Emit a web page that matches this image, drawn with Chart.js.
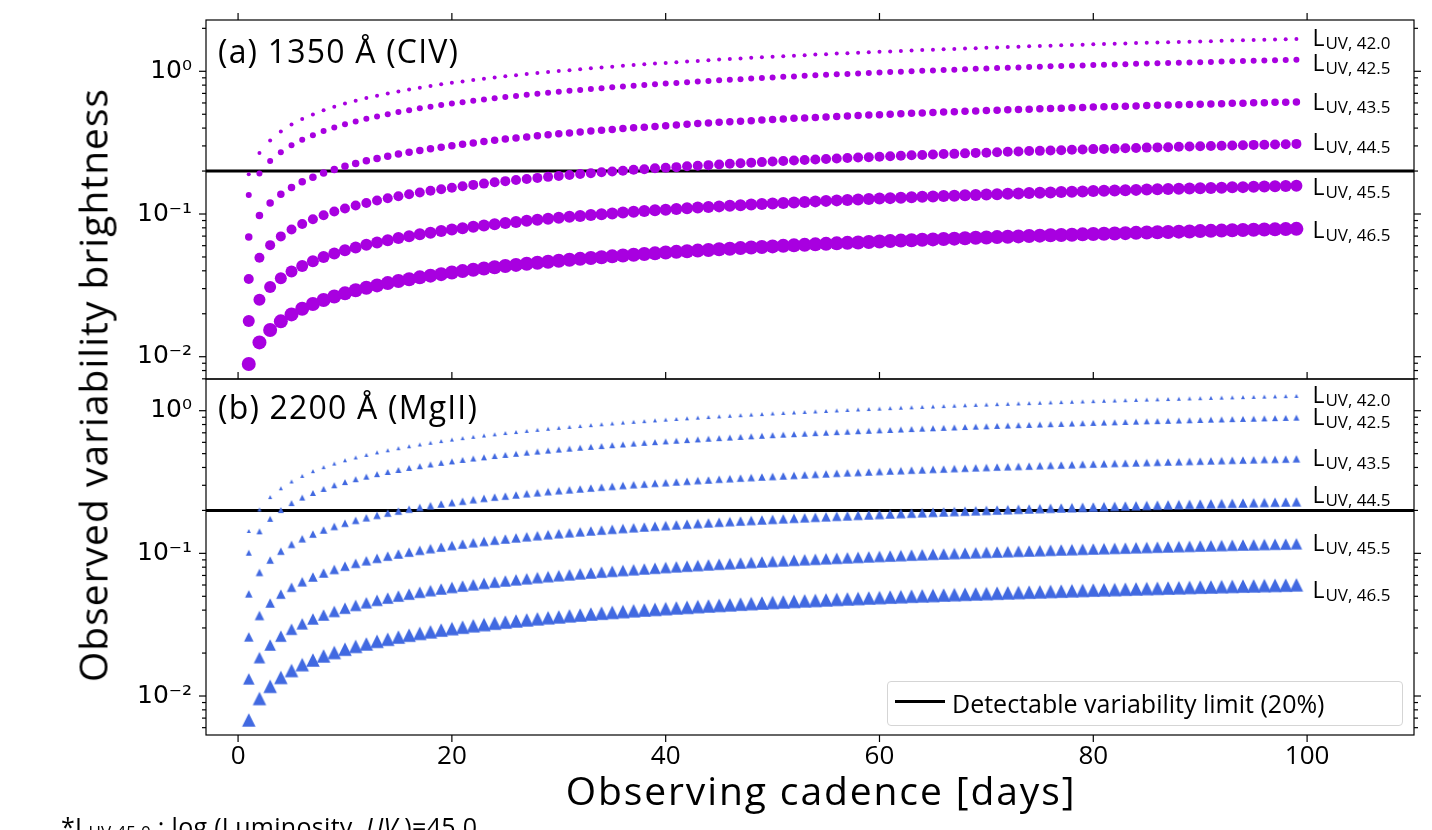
<!DOCTYPE html>
<html>
<head>
<meta charset="utf-8">
<title>Observed variability brightness vs observing cadence</title>
<script src="https://cdn.jsdelivr.net/npm/chart.js@4.4.1/dist/chart.umd.min.js"></script>
<style>
  html, body { margin: 0; padding: 0; background: #fff; }
  #wrap { position: relative; width: 1432px; height: 830px; overflow: hidden; }
  #chart { position: absolute; left: 0; top: 0; }
  .txt { position: absolute; font-family: "Open Sans", sans-serif; color: #000; white-space: nowrap; }
  #ytitle { left: 92px; top: 385px; font-size: 39px; line-height: 39px; letter-spacing: 1px; transform: translate(-50%, -50%) rotate(-90deg); }
  #xtitle { left: 821px; top: 770px; font-size: 39px; line-height: 39px; letter-spacing: 1.9px; transform: translateX(-50%); }
  .panel { left: 218px; font-size: 32px; line-height: 32px; letter-spacing: 1.2px; }
  #pa { top: 35px; }
  #pb { top: 391px; }
  #legend { left: 887px; top: 681px; width: 514px; height: 43px; border: 1px solid #d5d5d5; border-radius: 4px; background: rgba(255,255,255,0.8); }
  #legend .swatch { position: absolute; left: 7px; top: 18px; width: 50px; height: 3px; background: #000; }
  #legend .lbl { position: absolute; left: 64px; top: 9px; font-size: 25px; line-height: 25px; }
  #note { left: 61px; top: 814px; font-size: 25px; line-height: 25px; letter-spacing: 0.3px; }
  #note sub { font-size: 17px; vertical-align: -2px; line-height: 0; }
</style>
</head>
<body>
<div id="wrap">
  <canvas id="chart" width="1432" height="830"></canvas>
  <div class="txt panel" id="pa">(a) 1350 Å (CIV)</div>
  <div class="txt panel" id="pb">(b) 2200 Å (MgII)</div>
  <div class="txt" id="ytitle">Observed variability brightness</div>
  <div class="txt" id="xtitle">Observing cadence [days]</div>
  <div class="txt" id="legend"><span class="swatch"></span><span class="lbl">Detectable variability limit (20%)</span></div>
  <div class="txt" id="note">*L<sub>UV,45.0</sub> : log (Luminosity, <i>UV</i> )=45.0</div>
</div>
<script>
// ---- data ----
const days = [1,2,3,4,5,6,7,8,9,10,11,12,13,14,15,16,17,18,19,20,
  21,22,23,24,25,26,27,28,29,30,31,32,33,34,35,36,37,38,39,40,
  41,42,43,44,45,46,47,48,49,50,51,52,53,54,55,56,57,58,59,60,
  61,62,63,64,65,66,67,68,69,70,71,72,73,74,75,76,77,78,79,80,
  81,82,83,84,85,86,87,88,89,90,91,92,93,94,95,96,97,98,99];

const lumLabels = ['42.0', '42.5', '43.5', '44.5', '45.5', '46.5'];

// (a) 1350 A (CIV)
const civ420 = [0.1900,0.268,0.328,0.379,0.423,0.463,0.499,0.533,0.564,0.594,
  0.622,0.649,0.675,0.700,0.723,0.746,0.768,0.789,0.810,0.830,
  0.849,0.868,0.887,0.905,0.922,0.939,0.956,0.972,0.988,1.004,
  1.019,1.035,1.049,1.064,1.078,1.092,1.106,1.119,1.132,1.145,
  1.158,1.171,1.183,1.196,1.208,1.220,1.231,1.243,1.254,1.265,
  1.276,1.287,1.298,1.309,1.319,1.330,1.340,1.350,1.360,1.370,
  1.379,1.389,1.399,1.408,1.417,1.426,1.435,1.444,1.453,1.462,
  1.471,1.479,1.488,1.496,1.505,1.513,1.521,1.529,1.537,1.545,
  1.553,1.560,1.568,1.576,1.583,1.591,1.598,1.605,1.612,1.620,
  1.627,1.634,1.641,1.648,1.654,1.661,1.668,1.674,1.681];
const civ425 = [0.1360,0.1921,0.235,0.271,0.303,0.331,0.357,0.381,0.404,0.425,
  0.445,0.465,0.483,0.501,0.518,0.534,0.550,0.565,0.580,0.594,
  0.608,0.622,0.635,0.648,0.660,0.672,0.684,0.696,0.708,0.719,
  0.730,0.740,0.751,0.761,0.772,0.782,0.791,0.801,0.811,0.820,
  0.829,0.838,0.847,0.856,0.864,0.873,0.881,0.890,0.898,0.906,
  0.914,0.921,0.929,0.937,0.944,0.952,0.959,0.966,0.973,0.980,
  0.987,0.994,1.001,1.008,1.014,1.021,1.027,1.034,1.040,1.046,
  1.053,1.059,1.065,1.071,1.077,1.083,1.089,1.094,1.100,1.106,
  1.111,1.117,1.122,1.128,1.133,1.138,1.144,1.149,1.154,1.159,
  1.164,1.169,1.174,1.179,1.184,1.189,1.194,1.199,1.203];
const civ435 = [0.0690,0.0975,0.1192,0.1375,0.1535,0.1680,0.1812,0.1935,0.205,0.216,
  0.226,0.236,0.245,0.254,0.263,0.271,0.279,0.287,0.294,0.301,
  0.308,0.315,0.322,0.329,0.335,0.341,0.347,0.353,0.359,0.365,
  0.370,0.376,0.381,0.386,0.391,0.397,0.402,0.406,0.411,0.416,
  0.421,0.425,0.430,0.434,0.439,0.443,0.447,0.451,0.455,0.460,
  0.464,0.468,0.471,0.475,0.479,0.483,0.487,0.490,0.494,0.497,
  0.501,0.504,0.508,0.511,0.515,0.518,0.521,0.525,0.528,0.531,
  0.534,0.537,0.540,0.543,0.546,0.549,0.552,0.555,0.558,0.561,
  0.564,0.567,0.569,0.572,0.575,0.578,0.580,0.583,0.586,0.588,
  0.591,0.593,0.596,0.598,0.601,0.603,0.606,0.608,0.610];
const civ445 = [0.0350,0.0494,0.0605,0.0697,0.0779,0.0852,0.0919,0.0981,0.1040,0.1094,
  0.1147,0.1196,0.1243,0.1289,0.1332,0.1374,0.1415,0.1454,0.1492,0.1529,
  0.1565,0.1600,0.1633,0.1667,0.1699,0.1730,0.1761,0.1791,0.1821,0.1850,
  0.1878,0.1906,0.1933,0.1960,0.1986,0.201,0.204,0.206,0.209,0.211,
  0.213,0.216,0.218,0.220,0.222,0.225,0.227,0.229,0.231,0.233,
  0.235,0.237,0.239,0.241,0.243,0.245,0.247,0.249,0.250,0.252,
  0.254,0.256,0.258,0.259,0.261,0.263,0.264,0.266,0.268,0.269,
  0.271,0.273,0.274,0.276,0.277,0.279,0.280,0.282,0.283,0.285,
  0.286,0.287,0.289,0.290,0.292,0.293,0.294,0.296,0.297,0.298,
  0.300,0.301,0.302,0.303,0.305,0.306,0.307,0.308,0.310];
const civ455 = [0.0178,0.0251,0.0308,0.0355,0.0396,0.0433,0.0467,0.0499,0.0529,0.0557,
  0.0583,0.0608,0.0632,0.0655,0.0678,0.0699,0.0720,0.0739,0.0759,0.0778,
  0.0796,0.0813,0.0831,0.0848,0.0864,0.0880,0.0896,0.0911,0.0926,0.0941,
  0.0955,0.0969,0.0983,0.0997,0.1010,0.1023,0.1036,0.1048,0.1061,0.1073,
  0.1085,0.1097,0.1109,0.1120,0.1131,0.1143,0.1153,0.1164,0.1175,0.1185,
  0.1196,0.1206,0.1216,0.1226,0.1236,0.1246,0.1255,0.1265,0.1274,0.1283,
  0.1292,0.1301,0.1310,0.1319,0.1328,0.1336,0.1345,0.1353,0.1361,0.1370,
  0.1378,0.1386,0.1394,0.1402,0.1410,0.1417,0.1425,0.1432,0.1440,0.1447,
  0.1455,0.1462,0.1469,0.1476,0.1483,0.1490,0.1497,0.1504,0.1511,0.1517,
  0.1524,0.1530,0.1537,0.1543,0.1550,0.1556,0.1563,0.1569,0.1575];
const civ465 = [0.0089,0.0126,0.0154,0.0177,0.0198,0.0217,0.0234,0.0250,0.0264,0.0278,
  0.0292,0.0304,0.0316,0.0328,0.0339,0.0349,0.0360,0.0370,0.0379,0.0389,
  0.0398,0.0407,0.0415,0.0424,0.0432,0.0440,0.0448,0.0456,0.0463,0.0470,
  0.0478,0.0485,0.0492,0.0498,0.0505,0.0512,0.0518,0.0524,0.0530,0.0537,
  0.0543,0.0548,0.0554,0.0560,0.0566,0.0571,0.0577,0.0582,0.0587,0.0593,
  0.0598,0.0603,0.0608,0.0613,0.0618,0.0623,0.0628,0.0632,0.0637,0.0642,
  0.0646,0.0651,0.0655,0.0660,0.0664,0.0668,0.0672,0.0677,0.0681,0.0685,
  0.0689,0.0693,0.0697,0.0701,0.0705,0.0709,0.0712,0.0716,0.0720,0.0724,
  0.0727,0.0731,0.0734,0.0738,0.0742,0.0745,0.0748,0.0752,0.0755,0.0759,
  0.0762,0.0765,0.0769,0.0772,0.0775,0.0778,0.0781,0.0784,0.0787];

// (b) 2200 A (MgII)
const mg420 = [0.1435,0.203,0.248,0.286,0.319,0.349,0.377,0.402,0.426,0.449,
  0.470,0.490,0.510,0.528,0.546,0.563,0.580,0.596,0.612,0.627,
  0.642,0.656,0.670,0.683,0.697,0.709,0.722,0.734,0.747,0.758,
  0.770,0.781,0.792,0.803,0.814,0.825,0.835,0.845,0.855,0.865,
  0.875,0.884,0.894,0.903,0.912,0.921,0.930,0.939,0.947,0.956,
  0.964,0.972,0.980,0.988,0.996,1.004,1.012,1.020,1.027,1.034,
  1.042,1.049,1.056,1.063,1.070,1.077,1.084,1.091,1.098,1.104,
  1.111,1.117,1.124,1.130,1.136,1.143,1.149,1.155,1.161,1.167,
  1.173,1.178,1.184,1.190,1.196,1.201,1.207,1.212,1.218,1.223,
  1.229,1.234,1.239,1.244,1.249,1.255,1.260,1.265,1.270];
const mg425 = [0.1010,0.1427,0.1745,0.201,0.225,0.246,0.265,0.283,0.300,0.316,
  0.331,0.345,0.359,0.372,0.384,0.397,0.408,0.420,0.431,0.441,
  0.452,0.462,0.471,0.481,0.490,0.499,0.508,0.517,0.525,0.534,
  0.542,0.550,0.558,0.565,0.573,0.580,0.588,0.595,0.602,0.609,
  0.616,0.622,0.629,0.636,0.642,0.648,0.655,0.661,0.667,0.673,
  0.679,0.684,0.690,0.696,0.701,0.707,0.712,0.718,0.723,0.728,
  0.733,0.738,0.743,0.748,0.753,0.758,0.763,0.768,0.773,0.777,
  0.782,0.786,0.791,0.795,0.800,0.804,0.808,0.813,0.817,0.821,
  0.825,0.829,0.834,0.838,0.842,0.845,0.849,0.853,0.857,0.861,
  0.865,0.868,0.872,0.876,0.879,0.883,0.887,0.890,0.894];
const mg435 = [0.0520,0.0735,0.0898,0.1036,0.1157,0.1266,0.1366,0.1458,0.1545,0.1626,
  0.1703,0.1777,0.1847,0.1915,0.1979,0.204,0.210,0.216,0.222,0.227,
  0.232,0.238,0.243,0.248,0.252,0.257,0.262,0.266,0.271,0.275,
  0.279,0.283,0.287,0.291,0.295,0.299,0.303,0.306,0.310,0.313,
  0.317,0.320,0.324,0.327,0.331,0.334,0.337,0.340,0.343,0.346,
  0.349,0.352,0.355,0.358,0.361,0.364,0.367,0.369,0.372,0.375,
  0.378,0.380,0.383,0.385,0.388,0.390,0.393,0.395,0.398,0.400,
  0.403,0.405,0.407,0.409,0.412,0.414,0.416,0.418,0.421,0.423,
  0.425,0.427,0.429,0.431,0.433,0.435,0.437,0.439,0.441,0.443,
  0.445,0.447,0.449,0.451,0.453,0.455,0.456,0.458,0.460];
const mg445 = [0.0260,0.0367,0.0449,0.0518,0.0579,0.0633,0.0683,0.0729,0.0772,0.0813,
  0.0852,0.0888,0.0924,0.0957,0.0990,0.1021,0.1051,0.1080,0.1108,0.1136,
  0.1162,0.1188,0.1213,0.1238,0.1262,0.1285,0.1308,0.1331,0.1353,0.1374,
  0.1395,0.1416,0.1436,0.1456,0.1475,0.1494,0.1513,0.1531,0.1550,0.1567,
  0.1585,0.1602,0.1619,0.1636,0.1653,0.1669,0.1685,0.1701,0.1716,0.1731,
  0.1747,0.1762,0.1776,0.1791,0.1805,0.1819,0.1833,0.1847,0.1861,0.1874,
  0.1888,0.1901,0.1914,0.1927,0.1939,0.1952,0.1964,0.1977,0.1989,0.2001,
  0.2013,0.2024,0.2036,0.2047,0.2059,0.2070,0.2081,0.2092,0.2103,0.2114,
  0.2125,0.2135,0.2146,0.2156,0.2166,0.2177,0.2187,0.2197,0.2206,0.2216,
  0.2226,0.2236,0.2245,0.2255,0.2264,0.2273,0.2282,0.2291,0.2300];
const mg455 = [0.0132,0.0186,0.0228,0.0263,0.0294,0.0321,0.0347,0.0370,0.0392,0.0413,
  0.0432,0.0451,0.0469,0.0486,0.0502,0.0518,0.0534,0.0548,0.0563,0.0577,
  0.0590,0.0603,0.0616,0.0629,0.0641,0.0653,0.0664,0.0676,0.0687,0.0698,
  0.0708,0.0719,0.0729,0.0739,0.0749,0.0759,0.0768,0.0778,0.0787,0.0796,
  0.0805,0.0813,0.0822,0.0831,0.0839,0.0847,0.0855,0.0863,0.0871,0.0879,
  0.0887,0.0894,0.0902,0.0909,0.0917,0.0924,0.0931,0.0938,0.0945,0.0952,
  0.0958,0.0965,0.0972,0.0978,0.0985,0.0991,0.0997,0.1003,0.1010,0.1016,
  0.1022,0.1028,0.1034,0.1039,0.1045,0.1051,0.1057,0.1062,0.1068,0.1073,
  0.1079,0.1084,0.1089,0.1095,0.1100,0.1105,0.1110,0.1115,0.1120,0.1125,
  0.1130,0.1135,0.1140,0.1145,0.1149,0.1154,0.1159,0.1163,0.1168];
const mg465 = [0.0068,0.00961,0.0117,0.0135,0.0151,0.0166,0.0179,0.0191,0.0202,0.0213,
  0.0223,0.0232,0.0242,0.0250,0.0259,0.0267,0.0275,0.0282,0.0290,0.0297,
  0.0304,0.0311,0.0317,0.0324,0.0330,0.0336,0.0342,0.0348,0.0354,0.0359,
  0.0365,0.0370,0.0376,0.0381,0.0386,0.0391,0.0396,0.0401,0.0405,0.0410,
  0.0415,0.0419,0.0424,0.0428,0.0432,0.0436,0.0441,0.0445,0.0449,0.0453,
  0.0457,0.0461,0.0465,0.0468,0.0472,0.0476,0.0480,0.0483,0.0487,0.0490,
  0.0494,0.0497,0.0501,0.0504,0.0507,0.0511,0.0514,0.0517,0.0520,0.0523,
  0.0526,0.0529,0.0532,0.0535,0.0538,0.0541,0.0544,0.0547,0.0550,0.0553,
  0.0556,0.0558,0.0561,0.0564,0.0567,0.0569,0.0572,0.0574,0.0577,0.0580,
  0.0582,0.0585,0.0587,0.0590,0.0592,0.0595,0.0597,0.0599,0.0602];

const limit = 0.2;                 // detectable variability limit (20%)
const xTickValues = [0, 20, 40, 60, 80, 100];
const yTickValues = [0.01, 0.1, 1];

// ---- axes / styling ----
const X_MIN = -3, X_MAX = 110;
const TOP_RANGE = [0.00698, 2.288];
const BOT_RANGE = [0.00533, 1.668];
const LABEL_X = 100.5;
const PURPLE = '#a800e0';
const BLUE = '#4169e1';
const circleRadius = [2, 3, 3.75, 5, 6, 7];
const triangleSize = [4, 6, 7.5, 9.5, 11.5, 13.5];
const civNudge = [-1, 3, 0, -2, 1, 1.5];
const mgNudge = [-1, -1, -1, -7, -1, 5];

const civSeries = [civ420, civ425, civ435, civ445, civ455, civ465];
const mgSeries = [mg420, mg425, mg435, mg445, mg455, mg465];

function triangle(size, color) {
  const c = document.createElement('canvas');
  const n = Math.ceil(size) + 2;
  c.width = n; c.height = n;
  const g = c.getContext('2d');
  const o = (n - size) / 2;
  g.fillStyle = color;
  g.beginPath();
  g.moveTo(n / 2, o);
  g.lineTo(o + size, o + size);
  g.lineTo(o, o + size);
  g.closePath();
  g.fill();
  return c;
}

const sup = { '-': '\u207B', '0': '\u2070', '1': '\u00B9', '2': '\u00B2', '3': '\u00B3' };
function decadeLabel(v) {
  const e = Math.round(Math.log10(v));
  return '10' + String(e).split('').map(ch => sup[ch]).join('');
}

const pts = arr => arr.map((v, i) => ({ x: days[i], y: v }));

const datasets = [];
civSeries.forEach((s, i) => datasets.push({
  label: 'CIV L' + lumLabels[i], data: pts(s), yAxisID: 'y',
  pointStyle: 'circle', pointRadius: circleRadius[i], pointBorderWidth: 0,
  pointBackgroundColor: PURPLE, order: 0
}));
mgSeries.forEach((s, i) => datasets.push({
  label: 'MgII L' + lumLabels[i], data: pts(s), yAxisID: 'y2',
  pointStyle: triangle(triangleSize[i], BLUE), pointRadius: triangleSize[i] / 2,
  pointBorderWidth: 0, order: 0
}));
['y', 'y2'].forEach(id => datasets.push({
  label: 'Detectable variability limit (20%)',
  data: [{ x: X_MIN, y: limit }, { x: X_MAX, y: limit }], yAxisID: id,
  showLine: true, borderColor: '#000', borderWidth: 3, pointRadius: 0, order: 1
}));

// labels at the right end of each series
const lumLabelPlugin = {
  id: 'lumLabels',
  afterDatasetsDraw(chart) {
    const ctx = chart.ctx, xs = chart.scales.x;
    const groups = [[civSeries, chart.scales.y, civNudge], [mgSeries, chart.scales.y2, mgNudge]];
    ctx.save();
    ctx.fillStyle = '#000';
    ctx.textAlign = 'left';
    ctx.textBaseline = 'alphabetic';
    groups.forEach(([series, ys, nudge]) => {
      series.forEach((s, i) => {
        const px = xs.getPixelForValue(LABEL_X);
        const py = ys.getPixelForValue(s[s.length - 1]) + nudge[i];
        ctx.font = '23px "Open Sans"';
        ctx.fillText('L', px, py + 8);
        const w = ctx.measureText('L').width;
        ctx.font = '17px "Open Sans"';
        ctx.fillText('UV, ' + lumLabels[i], px + w + 1, py + 11);
      });
    });
    ctx.restore();
  }
};

// axes frame and tick marks (matplotlib style)
const framePlugin = {
  id: 'frame',
  afterDraw(chart) {
    const ctx = chart.ctx, xs = chart.scales.x;
    const y1 = chart.scales.y, y2 = chart.scales.y2;
    const line = (a, b, c, d) => { ctx.beginPath(); ctx.moveTo(a, b); ctx.lineTo(c, d); ctx.stroke(); };
    ctx.save();
    ctx.strokeStyle = '#000';
    ctx.lineWidth = 1.2;
    [y1, y2].forEach(ys => {
      ctx.strokeRect(xs.left, ys.top, xs.right - xs.left, ys.bottom - ys.top);
      for (let e = -3; e <= 1; e++) {
        for (let m = 1; m <= 9; m++) {
          const v = m * Math.pow(10, e);
          if (v < ys.min || v > ys.max) continue;
          const py = ys.getPixelForValue(v);
          const len = m === 1 ? 7 : 4;
          line(xs.left, py, xs.left - len, py);
          line(xs.right, py, xs.right + len, py);
        }
      }
    });
    xTickValues.forEach(v => {
      const px = xs.getPixelForValue(v);
      line(px, y1.top, px, y1.top - 7);
      line(px, y2.top, px, y2.top - 7);
      line(px, y2.bottom, px, y2.bottom + 7);
    });
    ctx.restore();
  }
};

const yScale = (range, weight, stackWeight) => ({
  type: 'logarithmic', position: 'left', stack: 'panels', stackWeight: stackWeight, weight: weight,
  min: range[0], max: range[1],
  afterBuildTicks: s => { s.ticks = yTickValues.map(v => ({ value: v })); },
  afterFit: s => { s.width = 206; s.paddingTop = 0; s.paddingBottom = 0; },
  grid: { display: false, drawTicks: false },
  border: { display: false },
  ticks: { padding: 14, color: '#000', autoSkip: false, font: { family: '"DejaVu Sans"', size: 25 }, callback: decadeLabel }
});

new Chart(document.getElementById('chart'), {
  type: 'scatter',
  data: { datasets: datasets },
  options: {
    responsive: false,
    maintainAspectRatio: false,
    devicePixelRatio: 1,
    animation: false,
    events: [],
    layout: { padding: { left: 0, right: 18, top: 20, bottom: 0 } },
    plugins: { legend: { display: false }, tooltip: { enabled: false } },
    scales: {
      x: {
        type: 'linear', min: X_MIN, max: X_MAX,
        afterBuildTicks: s => { s.ticks = xTickValues.map(v => ({ value: v })); },
        afterFit: s => { s.height = 95; s.paddingLeft = 0; s.paddingRight = 0; },
        grid: { display: false, drawTicks: false },
        border: { display: false },
        ticks: { padding: 6, color: '#000', maxRotation: 0, autoSkip: false, font: { family: '"Open Sans"', size: 26 } }
      },
      y: yScale(TOP_RANGE, 2, 359),
      y2: yScale(BOT_RANGE, 1, 356)
    }
  },
  plugins: [lumLabelPlugin, framePlugin]
});
</script>
</body>
</html>
